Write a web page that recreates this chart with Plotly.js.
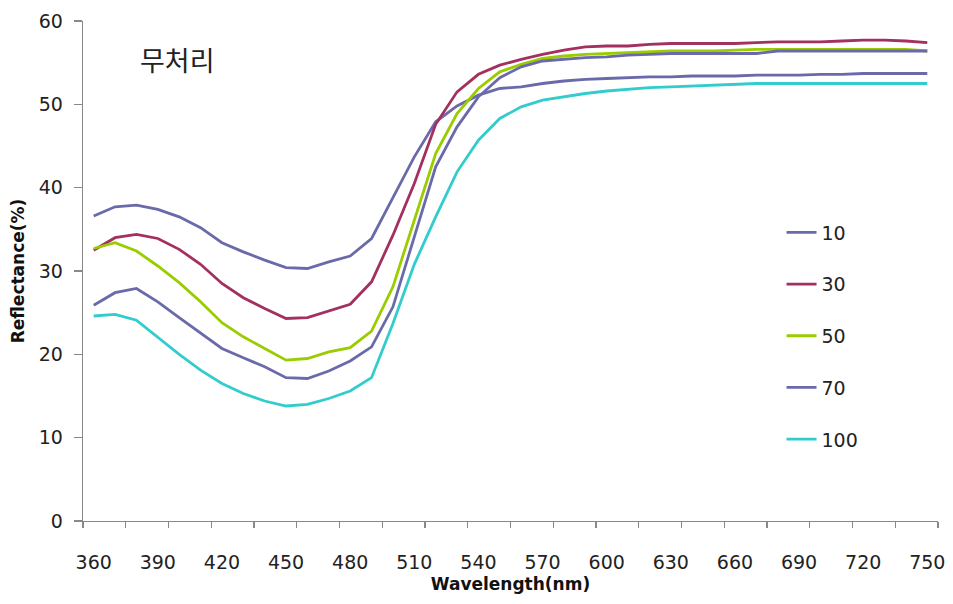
<!DOCTYPE html>
<html>
<head>
<meta charset="utf-8">
<script src="https://cdn.plot.ly/plotly-3.0.1.min.js"></script>
<style>
html,body{margin:0;padding:0;background:#fff;}
#chart{width:953px;height:604px;}
</style>
</head>
<body>
<div id="chart"></div>
<script>
const wavelength = [360,370,380,390,400,410,420,430,440,450,460,470,480,490,500,510,520,530,540,550,560,570,580,590,600,610,620,630,640,650,660,670,680,690,700,710,720,730,740,750];

const s10  = [36.6,37.7,37.9,37.4,36.5,35.2,33.4,32.3,31.3,30.4,30.3,31.1,31.8,33.9,38.8,43.7,47.9,49.8,51.1,51.9,52.1,52.5,52.8,53.0,53.1,53.2,53.3,53.3,53.4,53.4,53.4,53.5,53.5,53.5,53.6,53.6,53.7,53.7,53.7,53.7];
const s30  = [32.5,34.0,34.4,33.9,32.6,30.8,28.5,26.8,25.5,24.3,24.4,25.2,26.0,28.7,34.3,40.5,47.6,51.5,53.6,54.7,55.4,56.0,56.5,56.9,57.0,57.0,57.2,57.3,57.3,57.3,57.3,57.4,57.5,57.5,57.5,57.6,57.7,57.7,57.6,57.4];
const s50  = [32.7,33.4,32.4,30.6,28.6,26.3,23.8,22.1,20.7,19.3,19.5,20.3,20.8,22.8,28.1,36.0,44.1,48.9,51.9,53.9,54.8,55.5,55.8,56.0,56.1,56.2,56.3,56.4,56.4,56.4,56.5,56.6,56.6,56.6,56.6,56.6,56.6,56.6,56.6,56.4];
const s70  = [25.9,27.4,27.9,26.3,24.4,22.5,20.7,19.6,18.5,17.2,17.1,18.0,19.2,20.9,25.7,34.1,42.5,47.3,50.9,53.2,54.5,55.2,55.4,55.6,55.7,55.9,56.0,56.1,56.1,56.1,56.1,56.1,56.4,56.4,56.4,56.4,56.4,56.4,56.4,56.4];
const s100 = [24.6,24.8,24.1,22.0,20.0,18.1,16.5,15.3,14.4,13.8,14.0,14.7,15.6,17.2,23.7,30.8,36.5,41.9,45.7,48.3,49.7,50.5,50.9,51.3,51.6,51.8,52.0,52.1,52.2,52.3,52.4,52.5,52.5,52.5,52.5,52.5,52.5,52.5,52.5,52.5];

const seriesNames = ['10','30','50','70','100'];
const seriesValues = [s10, s30, s50, s70, s100];
const seriesColors = ['#6A6AAA','#A3305F','#9ACC00','#6A6AAA','#33CCCC'];

const xLabelTicks = [360,390,420,450,480,510,540,570,600,630,660,690,720,750];
const xMarkTicks = [355,375,395,415,435,455,475,495,515,535,555,575,595,615,635,655,675,695,715,735,755];
const yTicks = [0,10,20,30,40,50,60];
const titleText = '무처리';
const xTitle = 'Wavelength(nm)';
const yTitle = 'Reflectance(%)';

const tickFont = {family:'DejaVu Sans', size:19, color:'#222'};

const traces = seriesNames.map((n,i)=>({
  x: wavelength, y: seriesValues[i], name: n, type:'scatter', mode:'lines',
  line:{color:seriesColors[i], width:2.8},
  legendgroup:'g'+i
}));

const layout = {
  width:953, height:604,
  margin:{l:83, r:15, t:21, b:83},
  paper_bgcolor:'#fff', plot_bgcolor:'#fff',
  showlegend:true,
  legend:{x:0.817, y:0.615, xanchor:'left', yanchor:'top', font:{family:'DejaVu Sans', size:19, color:'#222'}, tracegroupgap:24, bgcolor:'rgba(0,0,0,0)'},
  xaxis:{
    range:[355,755], tickmode:'array', tickvals:xMarkTicks, showticklabels:false,
    ticks:'outside', ticklen:6, tickcolor:'#888', tickwidth:1.3,
    showline:true, linecolor:'#888', linewidth:1.3, showgrid:false, zeroline:false,
    title:{text:xTitle, font:{family:'DejaVu Sans', size:17, color:'#111', weight:'bold'}, standoff:50}
  },
  xaxis2:{
    overlaying:'x', side:'bottom', anchor:'y',
    range:[355,755], tickmode:'array', tickvals:xLabelTicks, ticks:'', showline:false, showgrid:false, zeroline:false,
    tickfont:tickFont, ticklabelstandoff:28
  },
  yaxis:{
    range:[0,60], tickmode:'array', tickvals:yTicks, ticks:'outside', ticklen:8, tickcolor:'#888', tickwidth:1.3,
    showline:true, linecolor:'#888', linewidth:1.3, showgrid:false, zeroline:false,
    tickfont:tickFont, ticklabelstandoff:7,
    title:{text:yTitle, font:{family:'DejaVu Sans', size:17, color:'#111', weight:'bold'}, standoff:9}
  },
  annotations:[{
    text:titleText, xref:'paper', yref:'paper', x:0.11, y:0.922, xanchor:'center', yanchor:'middle',
    showarrow:false, font:{family:'Noto Sans CJK KR', size:27, color:'#222'}
  }]
};

// invisible helper trace so the label axis (xaxis2) is drawn
traces.push({x:[wavelength[0]], y:[null], xaxis:'x2', yaxis:'y', showlegend:false, hoverinfo:'skip', mode:'lines'});

Plotly.newPlot('chart', traces, layout, {staticPlot:true, displayModeBar:false});
</script>
</body>
</html>
